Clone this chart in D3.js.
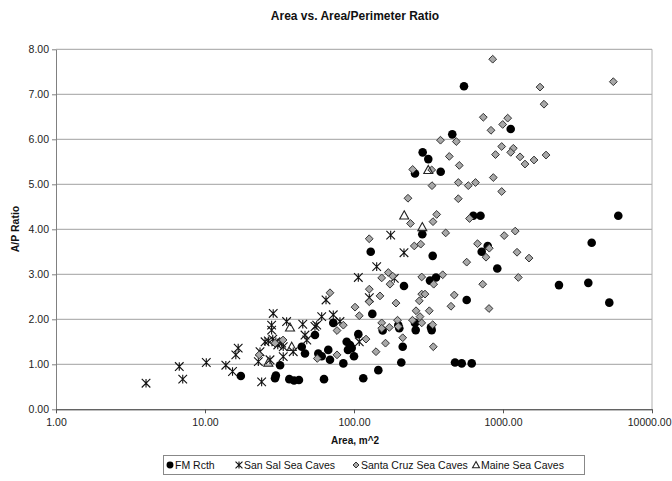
<!DOCTYPE html>
<html><head><meta charset="utf-8">
<script src="https://cdn.jsdelivr.net/npm/d3@7"></script>
<style>
body{margin:0;background:#fff}
svg{display:block}
text{font-family:"Liberation Sans",Arial,sans-serif}
</style>
</head><body>
<svg id="c" width="672" height="481"></svg>
<script>
// ---- data: [area m^2, A/P ratio] ----
const fmRcth = [
 [17.4,0.74],[29.5,0.69],[29.9,0.75],[36.8,0.67],[39.6,0.64],[42.7,0.65],[31.9,0.98],[62.9,0.67],
 [44.6,1.39],[46.9,1.24],[54.7,1.65],[57.6,1.24],[60.7,1.18],[67.2,1.32],[69.0,1.10],[72.6,1.92],
 [84.8,1.02],[89.3,1.50],[94.0,1.43],[96.5,1.36],[91.1,1.32],[100,1.18],[106.9,1.67],[115.4,0.69],
 [129.5,3.50],[132.7,2.12],[145.6,0.87],[155.8,1.75],[198.3,1.87],[201.4,1.80],[212.3,1.39],[207.7,1.04],
 [216.5,2.74],[256.7,1.92],[259.5,1.76],[256.7,5.24],[289,5.71],[315.2,5.56],[287.3,3.89],[332.2,1.76],
 [328.6,1.82],[323.6,2.86],[355,2.93],[337.4,3.41],[381.9,5.28],[456.7,6.11],[476.4,1.04],[528.3,1.02],
 [616.6,1.02],[547.3,7.18],[570.6,2.43],[632,4.30],[706.3,4.30],[719.5,3.50],[789.4,3.63],[915.6,3.13],
 [1126.6,6.23],[2375,2.76],[3737,2.81],[3938,3.70],[5169,2.37],[5939,4.30]
];
const sanSal = [
 [4.02,0.58],[6.72,0.95],[7.09,0.67],[10.2,1.04],[13.8,0.98],[15.3,0.84],[16.1,1.21],[16.7,1.36],
 [24.0,0.61],[22.8,1.06],[23.4,1.28],[28.7,2.13],[28.0,1.87],[28.0,1.76],[25.3,1.50],[28.5,1.56],
 [30.8,1.43],[33.5,1.39],[27.3,1.10],[33.5,1.17],[35.3,1.95],[45.3,1.89],[39.1,1.28],[46.9,1.65],
 [48.2,1.54],[56.2,1.87],[60.7,2.06],[64.9,2.43],[72.6,2.10],[80.5,1.95],[106.9,2.93],[142.0,3.17],
 [176.3,3.87],[216.5,3.48],[186.4,2.91],[126.7,2.48],[108.5,1.50],[54.7,1.84],[26.6,1.52],[29.9,1.50],
 [32.7,1.47]
];
const santaCruz = [
 [852.8,7.78],[1772,7.16],[5500,7.28],[1884,6.78],[737.6,6.49],[1075,6.47],[995.4,6.33],[830.7,6.20],
 [980,5.84],[890.5,5.66],[1173,5.80],[1127,5.71],[1301,5.61],[1405,5.45],[1615,5.54],[1944,5.65],
 [860.7,5.15],[980,4.84],[380.6,5.98],[486,5.95],[436,5.62],[508.8,5.42],[247.7,5.33],[332.2,5.32],
 [333.8,4.97],[501.2,5.04],[584.9,4.97],[653.8,5.04],[230.3,4.69],[501.2,4.68],[358.9,4.33],[339,4.17],
 [239.4,4.13],[596,4.24],[126.5,3.79],[412.5,3.92],[253.9,3.63],[280.4,3.67],[674.5,3.68],[809.2,3.58],
 [769,3.38],[1019,3.86],[1208,3.96],[1242,3.49],[1495,3.36],[570.6,3.27],[730.8,2.78],[1267,2.93],
 [805.4,2.24],[69.0,2.59],[169.9,3.04],[181.8,2.96],[153.4,2.92],[174.4,2.78],[284.7,2.94],[393.8,2.99],
 [342.7,2.78],[126.7,2.67],[126.7,2.39],[149.4,2.52],[101.6,2.27],[108.5,2.08],[191.4,2.36],[284.7,2.56],
 [299.6,2.56],[274.4,2.41],[471.2,2.54],[447.7,2.29],[260.7,2.19],[320.2,2.19],[246.9,1.98],[277.3,2.06],
 [284.7,1.92],[337.4,1.88],[153.4,1.92],[153.4,1.80],[172.6,1.82],[195.9,1.98],[198.3,1.84],[84.8,1.87],
 [76.9,1.75],[120.4,1.56],[162.7,1.47],[212.3,1.59],[140.5,1.28],[340.6,1.39],[76.9,1.21],[56.7,1.13],
 [23.1,1.21],[29.5,1.47],[33.4,1.54]
];
const maine = [
 [26.6,1.04],[37.2,1.82],[38.2,1.39],[217.3,4.31],[287.3,4.05],[315.2,5.32]
];
const xTickValues = [1,10,100,1000,10000];
const yTickValues = [0,1,2,3,4,5,6,7,8];
const seriesNames = ["FM Rcth","San Sal Sea Caves","Santa Cruz Sea Caves","Maine Sea Caves"];

// ---- layout ----
const svg = d3.select("#c");
const P = {l:56, r:652, t:49.3, b:409.3};
const x = d3.scaleLog().domain([1,10000]).range([P.l,P.r]);
const y = d3.scaleLinear().domain([0,8]).range([P.b,P.t]);
const fmt = d3.format(".2f");

// gridlines
svg.append("g").selectAll("line").data(yTickValues.slice(1)).join("line")
  .attr("x1",P.l).attr("x2",P.r).attr("y1",d=>y(d)).attr("y2",d=>y(d))
  .attr("stroke","#a0a0a0").attr("stroke-width",1);
svg.append("line").attr("x1",P.r).attr("x2",P.r).attr("y1",P.t).attr("y2",P.b)
  .attr("stroke","#b0b0b0");

// axes
const ya = svg.append("g").attr("transform",`translate(${P.l},0)`)
  .call(d3.axisLeft(y).tickValues(yTickValues).tickFormat(fmt).tickSize(4).tickSizeOuter(0).tickPadding(3));
ya.select(".domain").attr("stroke","#808080");
ya.selectAll(".tick line").attr("stroke","#808080");
const xa = svg.append("g").attr("transform",`translate(0,${P.b})`)
  .call(d3.axisBottom(x).tickValues(xTickValues).tickFormat(fmt).tickSize(4).tickSizeOuter(0).tickPadding(5));
xa.select(".domain").attr("stroke","#222");
xa.selectAll(".tick line").attr("stroke","#555");
svg.selectAll(".tick text").attr("font-size","10.5px").attr("fill","#222")
  .style("font-family",'"Liberation Sans",Arial,sans-serif');
// keep the last x label inside the window
xa.selectAll(".tick text").filter(d=>d===10000).attr("text-anchor","end").attr("x",671-P.r);

// titles
svg.append("text").attr("x",355).attr("y",20).attr("text-anchor","middle")
  .attr("font-size","12px").attr("font-weight","bold").attr("fill","#111").text("Area vs. Area/Perimeter Ratio");
svg.append("text").attr("x",355).attr("y",444).attr("text-anchor","middle")
  .attr("font-size","10px").attr("font-weight","bold").attr("fill","#111").text("Area, m^2");
svg.append("text").attr("transform","translate(19,229) rotate(-90)").attr("text-anchor","middle")
  .attr("font-size","10.5px").attr("font-weight","bold").attr("fill","#111").text("A/P Ratio");

// marker symbols
const diamond = {draw(c,s){const r=Math.sqrt(s);c.moveTo(0,-r);c.lineTo(r,0);c.lineTo(0,r);c.lineTo(-r,0);c.closePath();}};
const star = {draw(c,s){const r=Math.sqrt(s);c.moveTo(-r,-r);c.lineTo(r,r);c.moveTo(r,-r);c.lineTo(-r,r);c.moveTo(0,-r);c.lineTo(0,r);}};
const tri = {draw(c,s){const r=Math.sqrt(s);c.moveTo(0,-r);c.lineTo(r*1.0,r*0.8);c.lineTo(-r*1.0,r*0.8);c.closePath();}};
const circ = {draw(c,s){const r=Math.sqrt(s);c.moveTo(r,0);c.arc(0,0,r,0,2*Math.PI);}};

const styles = [
  {data:fmRcth, sym:d3.symbol(circ,4.3*4.3), fill:"#000", stroke:"none", sw:0},
  {data:sanSal, sym:d3.symbol(star,4.3*4.3), fill:"none", stroke:"#111", sw:1.1},
  {data:santaCruz, sym:d3.symbol(diamond,3.9*3.9), fill:"#a8a8a8", stroke:"#333", sw:1},
  {data:maine, sym:d3.symbol(tri,4.5*4.5), fill:"none", stroke:"#222", sw:1.1}
];
styles.forEach(st=>{
  svg.append("g").selectAll("path").data(st.data).join("path")
    .attr("transform",d=>`translate(${x(d[0])},${y(d[1])})`)
    .attr("d",st.sym()).attr("fill",st.fill).attr("stroke",st.stroke).attr("stroke-width",st.sw);
});

// legend
const lg = svg.append("g");
lg.append("rect").attr("x",163.5).attr("y",455.5).attr("width",421).attr("height",19)
  .attr("fill","#fff").attr("stroke","#888");
const lx = [170,239,356,476];
seriesNames.forEach((n,i)=>{
  const st = styles[i];
  lg.append("path").attr("transform",`translate(${lx[i]},465)`)
    .attr("d",d3.symbol(st.sym.type(), i===0?12:(i===2?9:12))())
    .attr("fill",st.fill).attr("stroke",st.stroke).attr("stroke-width",st.sw);
  lg.append("text").attr("x",lx[i]+5).attr("y",469).attr("font-size","10.5px").attr("fill","#111").text(n);
});
</script>
</body></html>
